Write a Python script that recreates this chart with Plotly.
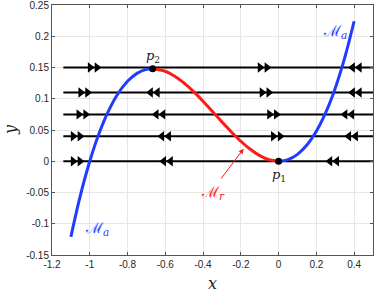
import plotly.graph_objects as go

# critical manifold points
curve_x = [-1.10, -1.05, -1.00, -0.95, -0.90, -0.85, -0.80, -0.75, -0.70, -0.667,
           -0.60, -0.55, -0.50, -0.45, -0.40, -0.35, -0.30, -0.25, -0.20, -0.15,
           -0.10, -0.05, 0.00, 0.05, 0.10, 0.15, 0.20, 0.25, 0.30, 0.35, 0.40]
curve_y = [-0.121, -0.0551, 0.0, 0.0451, 0.081, 0.1084, 0.128, 0.1406, 0.147, 0.1481,
           0.144, 0.1361, 0.125, 0.1114, 0.096, 0.0796, 0.063, 0.0469, 0.032, 0.0191,
           0.009, 0.0024, 0.0, 0.0026, 0.011, 0.0259, 0.048, 0.0781, 0.117, 0.1654, 0.224]

# fast fibres
fibre_y = [0.15, 0.11, 0.075, 0.04, 0.0]
fibre_x0 = -1.14
fibre_x1 = 0.5
arrow_x = [[-0.98, -0.08, 0.41],
           [-1.03, -0.66, -0.07, 0.41],
           [-1.04, -0.63, -0.03, 0.37],
           [-1.07, -0.60, -0.01, 0.39],
           [-1.07, -0.59, 0.29]]
arrow_dir = [["R", "R", "L"],
             ["R", "L", "R", "L"],
             ["R", "L", "R", "L"],
             ["R", "L", "R", "L"],
             ["R", "L", "L"]]

points_x = [0.0, -0.667]
points_y = [0.0, 0.1481]
points_lbl = ["<i>p</i><sub>1</sub>", "<i>p</i><sub>2</sub>"]

x_ticks = [-1.2, -1, -0.8, -0.6, -0.4, -0.2, 0, 0.2, 0.4]
y_ticks = [-0.15, -0.1, -0.05, 0, 0.05, 0.1, 0.15, 0.2, 0.25]

BLUE = "#1f3dff"
RED = "#ff1a1a"
SERIF = "DejaVu Serif"

fig = go.Figure()

# fibres
for fy in fibre_y:
    fig.add_trace(go.Scatter(x=[fibre_x0, fibre_x1], y=[fy, fy], mode="lines",
                             line=dict(color="black", width=2), showlegend=False, hoverinfo="skip"))

# arrows
off = 0.018
for fy, xs, ds in zip(fibre_y, arrow_x, arrow_dir):
    for ax, d in zip(xs, ds):
        sym = "triangle-right" if d == "R" else "triangle-left"
        fig.add_trace(go.Scatter(x=[ax - off, ax + off], y=[fy, fy], mode="markers",
                                 marker=dict(symbol=sym, size=9, color="black"),
                                 showlegend=False, hoverinfo="skip"))

# split curve
i_p2 = curve_x.index(-0.667)
i_p1 = curve_x.index(0.0)
fig.add_trace(go.Scatter(x=curve_x[:i_p2 + 1], y=curve_y[:i_p2 + 1], mode="lines", line_shape="spline",
                         line=dict(color=BLUE, width=3), showlegend=False))
fig.add_trace(go.Scatter(x=curve_x[i_p2:i_p1 + 1], y=curve_y[i_p2:i_p1 + 1], mode="lines", line_shape="spline",
                         line=dict(color=RED, width=3), showlegend=False))
fig.add_trace(go.Scatter(x=curve_x[i_p1:], y=curve_y[i_p1:], mode="lines", line_shape="spline",
                         line=dict(color=BLUE, width=3), showlegend=False))

fig.add_trace(go.Scatter(x=points_x, y=points_y, mode="markers",
                         marker=dict(color="black", size=7), showlegend=False))

fig.add_annotation(x=points_x[0], y=points_y[0], text=points_lbl[0], showarrow=False,
                   yshift=-14, font=dict(family=SERIF, size=13, color="#222"))
fig.add_annotation(x=points_x[1], y=points_y[1], text=points_lbl[1], showarrow=False,
                   yshift=12, font=dict(family=SERIF, size=13, color="#222"))

fig.add_annotation(x=0.3, y=0.207, text="ℳ<sub><i>a</i></sub>", showarrow=False,
                   font=dict(family=SERIF, size=15, color=BLUE))
fig.add_annotation(x=-0.96, y=-0.108, text="ℳ<sub><i>a</i></sub>", showarrow=False,
                   font=dict(family=SERIF, size=15, color=BLUE))
fig.add_annotation(x=-0.35, y=-0.05, text="ℳ<sub><i>r</i></sub>", showarrow=False,
                   font=dict(family=SERIF, size=15, color=RED))
fig.add_annotation(x=-0.185, y=0.02, ax=-0.31, ay=-0.03, axref="x", ayref="y",
                   text="", showarrow=True, arrowhead=2, arrowsize=1, arrowwidth=1,
                   arrowcolor=RED)

# axis titles
fig.add_annotation(x=0.5, y=0, xref="paper", yref="paper", yshift=-28, yanchor="middle",
                   text="<i>x</i>", showarrow=False, font=dict(family=SERIF, size=16, color="#222"))
fig.add_annotation(x=0, y=0.5, xref="paper", yref="paper", xshift=-42, xanchor="center",
                   yanchor="middle", text="<i>y</i>", showarrow=False, textangle=-90,
                   font=dict(family=SERIF, size=16, color="#222"))

axis_common = dict(showgrid=True, gridcolor="#e6e6e6", gridwidth=1, zeroline=False,
                   showline=True, linecolor="#555", linewidth=1, mirror="ticks",
                   ticks="inside", ticklen=3, tickcolor="#555", automargin=False,
                   ticklabeloverflow="allow",
                   tickfont=dict(family="Liberation Sans", size=10, color="#262626"))

fig.update_xaxes(range=[-1.2, 0.5], tickvals=x_ticks, ticktext=[f"{v:g}" for v in x_ticks],
                 **axis_common)
fig.update_yaxes(range=[-0.15, 0.25], tickvals=y_ticks, ticktext=[f"{v:g}" for v in y_ticks],
                 **axis_common)

fig.update_layout(width=374, height=292, margin=dict(l=52, r=1, t=5, b=37),
                  plot_bgcolor="white", paper_bgcolor="white")

fig.write_html("out.html", config={"displayModeBar": False},
               post_script="document.body.style.margin='0';")
